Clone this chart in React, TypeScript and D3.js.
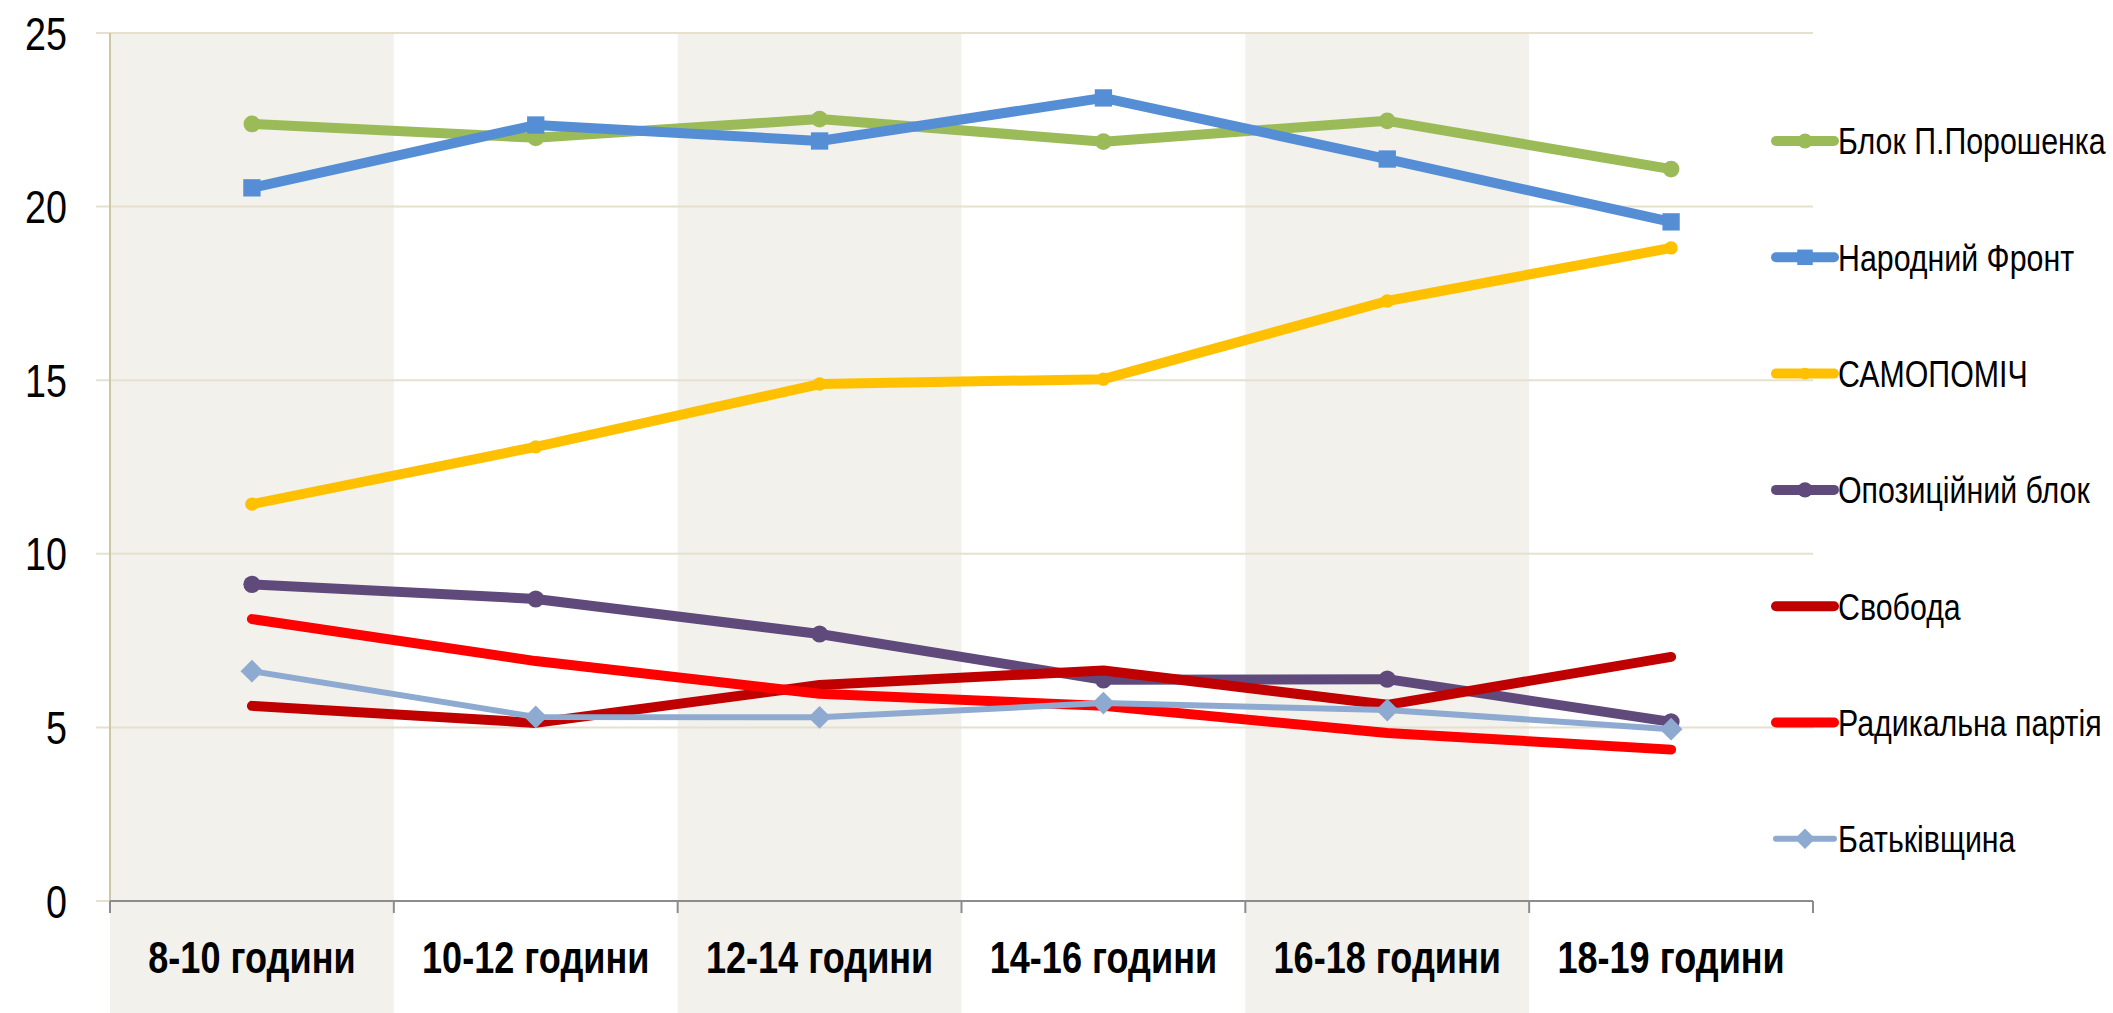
import React from 'react';
import * as d3 from 'd3';

const categories = ['8-10 години', '10-12 години', '12-14 години', '14-16 години', '16-18 години', '18-19 години'];
const yTicks = [0, 5, 10, 15, 20, 25];

const poroshenko = [22.38, 21.98, 22.52, 21.87, 22.47, 21.08];
const narodnyi = [20.54, 22.35, 21.89, 23.13, 21.37, 19.56];
const samopomich = [11.43, 13.08, 14.89, 15.03, 17.28, 18.81];
const opozytsiinyi = [9.12, 8.70, 7.69, 6.37, 6.39, 5.16];
const svoboda = [5.62, 5.13, 6.22, 6.64, 5.65, 7.03];
const radykalna = [8.12, 6.91, 5.97, 5.62, 4.84, 4.36];
const batkivshchyna = [6.62, 5.30, 5.29, 5.70, 5.50, 4.95];

const series = [
  { name: 'Блок П.Порошенка', values: poroshenko, color: '#9bbb59', width: 10, marker: 'circle', size: 220 },
  { name: 'Народний Фронт', values: narodnyi, color: '#558ed5', width: 10, marker: 'square', size: 300 },
  { name: 'САМОПОМІЧ', values: samopomich, color: '#ffc000', width: 10, marker: 'circle', size: 140 },
  { name: 'Опозиційний блок', values: opozytsiinyi, color: '#604a7b', width: 10, marker: 'circle', size: 230 },
  { name: 'Свобода', values: svoboda, color: '#c00000', width: 10, marker: 'none', size: 0 },
  { name: 'Радикальна партія', values: radykalna, color: '#ff0000', width: 10, marker: 'none', size: 0 },
  { name: 'Батьківщина', values: batkivshchyna, color: '#8eaad0', width: 6, marker: 'diamond', size: 260 },
];

const W = 2113;
const H = 1013;
const plotLeft = 110;
const plotRight = 1813;
const plotTop = 33;
const plotBottom = 901;

const font = "'Liberation Sans', Arial, sans-serif";
const squeeze = 0.82; // no narrow font installed, so condense by hand

const markerPath = (type: string, size: number) => {
  if (type === 'square' || type === 'diamond') return d3.symbol().type(d3.symbolSquare).size(size)();
  return d3.symbol().type(d3.symbolCircle).size(size)();
};

export default function App() {
  const x = d3.scaleBand().domain(categories).range([plotLeft, plotRight]);
  const y = d3.scaleLinear().domain([0, 25]).range([plotBottom, plotTop]);
  const cx = (c: string) => (x(c) as number) + x.bandwidth() / 2;

  const line = d3.line<number>()
    .x((_, i) => cx(categories[i]))
    .y(d => y(d));

  const legendX = 1776;
  const legendY0 = 141;
  const legendStep = 116.3;

  return (
    <svg width={W} height={H} style={{ position: 'absolute', left: 0, top: 0, background: '#fff' }}>
      {/* shaded alternating bands */}
      {categories.map((c, i) => i % 2 === 0 ? (
        <rect key={c} x={x(c)} y={plotTop} width={x.bandwidth()} height={H - plotTop} fill="#f2f1ec" />
      ) : null)}

      {/* gridlines */}
      {yTicks.map(t => (
        <line key={t} x1={96} x2={plotRight} y1={y(t)} y2={y(t)} stroke="#e6e0cf" strokeWidth={2} />
      ))}
      <line x1={plotLeft} x2={plotLeft} y1={plotTop} y2={plotBottom} stroke="#cfc6a4" strokeWidth={2} />

      {/* x axis */}
      <line x1={plotLeft} x2={plotRight} y1={plotBottom} y2={plotBottom} stroke="#8c8c8c" strokeWidth={2} />
      {categories.concat(['end']).map((c, i) => {
        const xx = plotLeft + i * x.bandwidth();
        return <line key={'t' + i} x1={xx} x2={xx} y1={plotBottom} y2={plotBottom + 12} stroke="#8c8c8c" strokeWidth={2} />;
      })}

      {/* y tick labels */}
      {yTicks.map(t => (
        <text key={'l' + t} transform={`translate(67,${y(t)}) scale(${squeeze},1)`} dy="0.36em" textAnchor="end"
          fontFamily={font} fontSize={46} fill="#000">{t}</text>
      ))}

      {/* x tick labels */}
      {categories.map(c => (
        <text key={'c' + c} transform={`translate(${cx(c)},973) scale(${squeeze},1)`} textAnchor="middle"
          fontFamily={font} fontWeight="bold" fontSize={44} fill="#000">{c}</text>
      ))}

      {/* series */}
      {series.map(s => (
        <g key={s.name}>
          <path d={line(s.values) as string} fill="none" stroke={s.color} strokeWidth={s.width} strokeLinecap="round" strokeLinejoin="round" />
          {s.marker !== 'none' && s.values.map((v, i) => (
            <path key={i} d={markerPath(s.marker, s.size) as string} fill={s.color}
              transform={`translate(${cx(categories[i])},${y(v)})${s.marker === 'diamond' ? ' rotate(45)' : ''}`} />
          ))}
        </g>
      ))}

      {/* legend */}
      {series.map((s, i) => {
        const ly = legendY0 + i * legendStep;
        return (
          <g key={'lg' + s.name}>
            <line x1={legendX} x2={legendX + 58} y1={ly} y2={ly} stroke={s.color} strokeWidth={s.width} strokeLinecap="round" />
            {s.marker !== 'none' && (
              <path d={markerPath(s.marker, s.size * 0.8) as string} fill={s.color}
                transform={`translate(${legendX + 29},${ly})${s.marker === 'diamond' ? ' rotate(45)' : ''}`} />
            )}
            <text transform={`translate(${legendX + 62},${ly}) scale(${squeeze},1)`} dy="0.36em"
              fontFamily={font} fontSize={37} fill="#000">{s.name}</text>
          </g>
        );
      })}
    </svg>
  );
}
